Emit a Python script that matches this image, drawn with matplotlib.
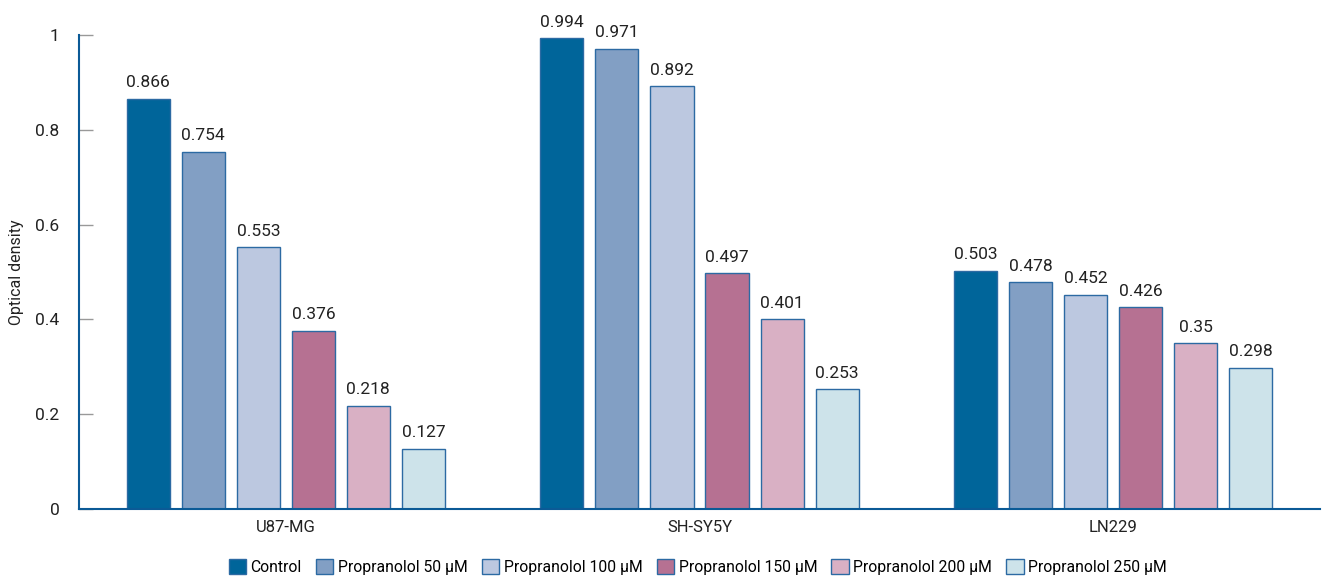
import numpy as np
import matplotlib.pyplot as plt

# data
cell_lines = ['U87-MG', 'SH-SY5Y', 'LN229']
treatments = ['Control', 'Propranolol 50 μM', 'Propranolol 100 μM',
              'Propranolol 150 μM', 'Propranolol 200 μM', 'Propranolol 250 μM']
control = [0.866, 0.994, 0.503]
prop_50 = [0.754, 0.971, 0.478]
prop_100 = [0.553, 0.892, 0.452]
prop_150 = [0.376, 0.497, 0.426]
prop_200 = [0.218, 0.401, 0.35]
prop_250 = [0.127, 0.253, 0.298]
series = [control, prop_50, prop_100, prop_150, prop_200, prop_250]

colors = ['#00659a', '#829fc4', '#bcc8e0', '#b67192', '#d9b0c4', '#cde3ea']
edge_col = '#2c6aa3'
spine_col = '#0b5a96'
tick_col = '#999999'
text_col = '#222222'

plt.rcParams['font.family'] = ['Roboto', 'DejaVu Sans']

fig = plt.figure(figsize=(13.24, 5.79), dpi=100)
ax = fig.add_axes([79 / 1324, 1 - 509 / 579, 1241 / 1324, (509 - 35) / 579])

x = np.arange(len(cell_lines))
width = 0.104
step = 0.133
for i, (vals, name, c) in enumerate(zip(series, treatments, colors)):
    pos = x + (i - 2.5) * step
    bars = ax.bar(pos, vals, width, color=c, edgecolor=edge_col, linewidth=1,
                  label=name, zorder=2)
    for b, v in zip(bars, vals):
        ax.annotate(f'{v:g}', (b.get_x() + b.get_width() / 2, v),
                    xytext=(0, 6), textcoords='offset points',
                    ha='center', va='bottom', fontsize=12.5, color=text_col)

ax.set_xlim(-0.5, 2.5)
ax.set_ylim(0, 1)
ax.set_yticks([0, 0.2, 0.4, 0.6, 0.8, 1])
ax.set_yticklabels(['0', '0.2', '0.4', '0.6', '0.8', '1'])
ax.set_xticks(x)
ax.set_xticklabels(cell_lines)

ax.tick_params(axis='y', direction='in', length=10, width=1, color=tick_col,
               labelsize=12.5, labelcolor=text_col, pad=14)
ax.tick_params(axis='x', length=0, labelsize=12, labelcolor=text_col, pad=8)

for s in ['top', 'right']:
    ax.spines[s].set_visible(False)
for s in ['left', 'bottom']:
    ax.spines[s].set_color(spine_col)
    ax.spines[s].set_linewidth(1.5)

ax.set_ylabel('Optical density', fontsize=11.5, color=text_col, labelpad=8)

fig.legend(loc='lower center', bbox_to_anchor=(0.527, -0.018), ncol=6,
           frameon=False, fontsize=11.3, handlelength=1.1, handleheight=1.1,
           handletextpad=0.3, columnspacing=0.9)

fig.savefig('out.png', dpi=100)
